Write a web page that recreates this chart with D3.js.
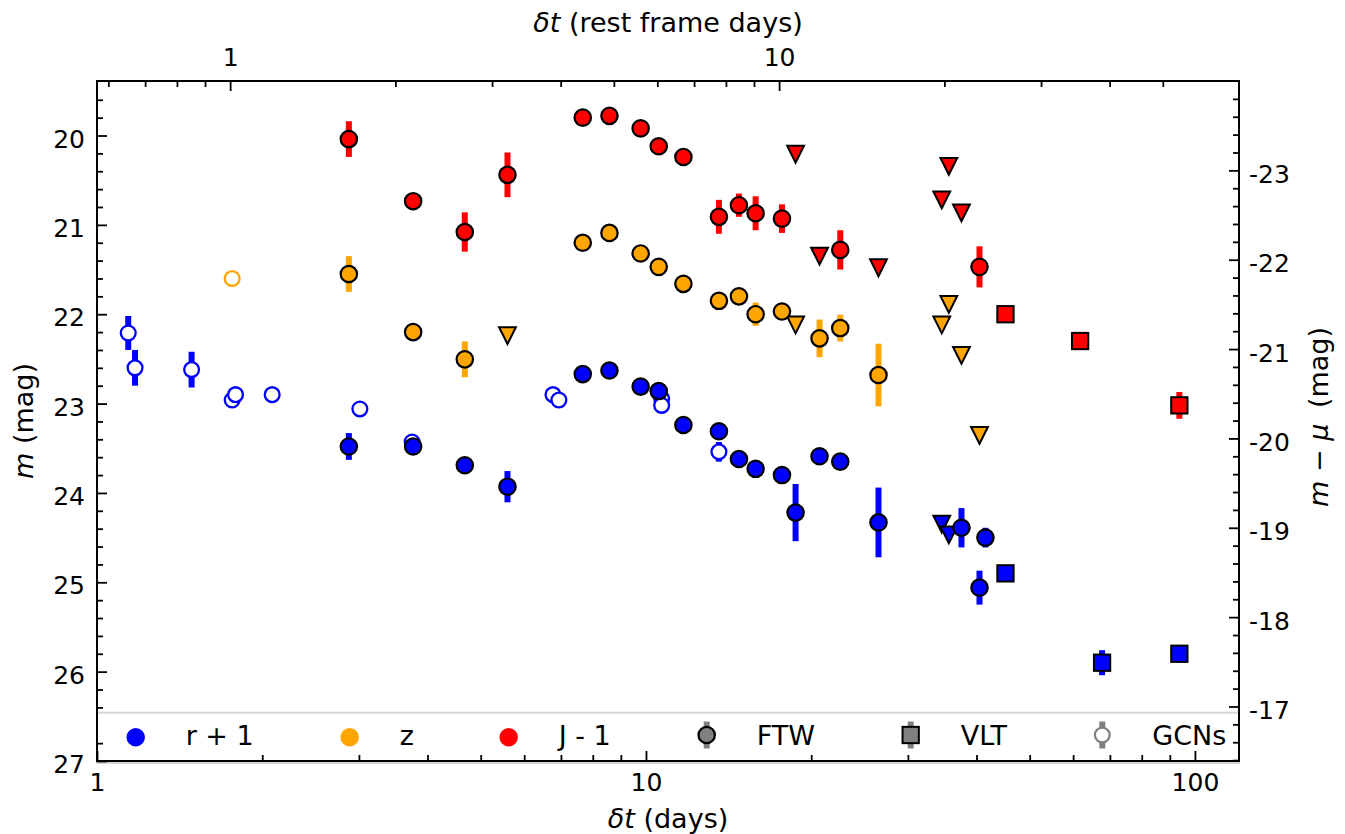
<!DOCTYPE html>
<html><head><meta charset="utf-8">
<script src="https://cdn.jsdelivr.net/npm/d3@7"></script>
<style>
body{margin:0;background:#fff}
svg{display:block}
text{font-family:'DejaVu Sans',sans-serif;fill:#000}
</style>
</head><body><svg id="c" width="1345" height="834"></svg>
<script>
// ---------------- data (observed-frame days, magnitudes) ----------------
const redFtwT   = [2.876, 3.766, 4.677, 5.594, 7.671, 8.580, 9.779, 10.55, 11.70, 13.58, 14.77, 15.84, 17.69, 22.59, 40.51];
const redFtwM   = [20.04, 20.735, 21.08, 20.44, 19.80, 19.78, 19.92, 20.12, 20.24, 20.91, 20.78, 20.87, 20.93, 21.28, 21.47];
const redFtwE   = [0.20, 0.03, 0.22, 0.25, 0.02, 0.02, 0.02, 0.02, 0.02, 0.19, 0.13, 0.19, 0.16, 0.22, 0.23];
const redLimT   = [18.73, 20.71, 26.52, 34.58, 35.62, 37.56];
const redLimM   = [20.21, 21.35, 21.48, 20.72, 20.345, 20.865];
const redVltT   = [45.17, 61.78, 93.67];
const redVltM   = [22.00, 22.30, 23.02];
const redVltE   = [0.03, 0.03, 0.15];

const zFtwT     = [2.876, 3.766, 4.677, 7.671, 8.580, 9.779, 10.55, 11.70, 13.58, 14.77, 15.84, 17.69, 20.71, 22.59, 26.52];
const zFtwM     = [21.55, 22.20, 22.505, 21.20, 21.09, 21.32, 21.47, 21.66, 21.85, 21.80, 22.00, 21.97, 22.27, 22.155, 22.68];
const zFtwE     = [0.20, 0.05, 0.20, 0.02, 0.02, 0.02, 0.02, 0.02, 0.04, 0.03, 0.13, 0.03, 0.21, 0.15, 0.35];
const zLimT     = [5.594, 18.73, 34.58, 35.62, 37.56, 40.51];
const zLimM     = [22.24, 22.12, 22.12, 21.89, 22.46, 23.355];
const zGcnT     = [1.763];
const zGcnM     = [21.60];
const zGcnE     = [0];

const rFtwT     = [2.876, 3.766, 4.677, 5.594, 7.671, 8.580, 9.779, 10.55, 11.70, 13.58, 14.77, 15.84, 17.69, 18.73, 20.71, 22.59, 26.52, 37.56, 41.53, 40.51];
const rFtwM     = [23.48, 23.48, 23.69, 23.93, 22.67, 22.63, 22.81, 22.86, 23.24, 23.31, 23.62, 23.73, 23.80, 24.22, 23.59, 23.65, 24.33, 24.39, 24.50, 25.06];
const rFtwE     = [0.15, 0.03, 0.03, 0.175, 0.02, 0.02, 0.02, 0.02, 0.02, 0.03, 0.03, 0.03, 0.03, 0.32, 0.03, 0.06, 0.39, 0.22, 0.11, 0.19];
const rLimT     = [34.58, 35.62];
const rLimM     = [24.35, 24.47];
const rVltT     = [45.17, 67.74, 93.67];
const rVltM     = [24.90, 25.90, 25.80];
const rVltE     = [0.03, 0.14, 0.03];
const rGcnT     = [1.140, 1.173, 1.487, 1.763, 1.788, 2.085, 3.012, 3.750, 6.77, 6.94, 10.68, 10.68, 13.58];
const rGcnM     = [22.21, 22.60, 22.62, 22.96, 22.90, 22.90, 23.06, 23.43, 22.90, 22.96, 22.945, 23.02, 23.54];
const rGcnE     = [0.19, 0.20, 0.20, 0, 0, 0, 0, 0.05, 0, 0, 0, 0, 0.11];

const bottomMajor = [1, 10, 100];
const bottomMinor = [2,3,4,5,6,7,8,9,20,30,40,50,60,70,80,90];
const topMajor    = [1, 10];
const topMinor    = [0.6,0.7,0.8,0.9,2,3,4,5,6,7,8,9,20,30,40,50];
const leftMajor   = [20, 21, 22, 23, 24, 25, 26, 27];
const rightMajor  = [-23, -22, -21, -20, -19, -18, -17];
const legendLabels = ["r + 1", "z", "J - 1", "FTW", "VLT", "GCNs"];

const onePlusZ = 1.748;   // rest-frame conversion
const distMod  = 43.39;   // distance modulus for right axis
const xDomain  = [1, 120.3];
const yDomain  = [19.39, 27];

const BLUE = "#0000ff", ORANGE = "#ffa500", RED = "#ff0000", GRAY = "#808080";

// ---------------- layout ----------------
const svg = d3.select("#c");
const L = 97, R = 1239, T = 81, B = 761;
const FS = 25;      // tick labels
const FL = 27;      // axis titles and legend

const x  = d3.scaleLog().domain(xDomain).range([L, R]);
const xt = d3.scaleLog().domain(xDomain.map(v => v / onePlusZ)).range([L, R]);
const y  = d3.scaleLinear().domain(yDomain).range([T, B]);
const yr = d3.scaleLinear().domain(yDomain.map(v => v - distMod)).range([T, B]);

const plot = svg.append("g");

function errbars(ts, ms, es, color) {
  plot.append("g").selectAll("line").data(ts.map((t,i)=>({t, m: ms[i], e: es[i]})).filter(d => d.e > 0))
    .join("line")
    .attr("x1", d => x(d.t)).attr("x2", d => x(d.t))
    .attr("y1", d => y(d.m - d.e)).attr("y2", d => y(d.m + d.e))
    .attr("stroke", color).attr("stroke-width", 6);
}
function circles(ts, ms, fill, stroke, r, sw) {
  plot.append("g").selectAll("circle").data(ts.map((t,i)=>({t, m: ms[i]})))
    .join("circle")
    .attr("cx", d => x(d.t)).attr("cy", d => y(d.m)).attr("r", r)
    .attr("fill", fill).attr("stroke", stroke).attr("stroke-width", sw);
}
const H = 8.4;
const triPath = `M${-H},${-H}L${H},${-H}L0,${H}Z`;
function triangles(ts, ms, fill) {
  plot.append("g").selectAll("path").data(ts.map((t,i)=>({t, m: ms[i]})))
    .join("path")
    .attr("transform", d => `translate(${x(d.t)},${y(d.m)})`)
    .attr("d", triPath)
    .attr("fill", fill).attr("stroke", "#000").attr("stroke-width", 2).attr("stroke-linejoin", "miter");
}
const S = 16.3;
function squares(ts, ms, fill) {
  plot.append("g").selectAll("rect").data(ts.map((t,i)=>({t, m: ms[i]})))
    .join("rect")
    .attr("x", d => x(d.t) - S/2).attr("y", d => y(d.m) - S/2)
    .attr("width", S).attr("height", S)
    .attr("fill", fill).attr("stroke", "#000").attr("stroke-width", 2);
}

// GCNs (open circles)
errbars(rGcnT, rGcnM, rGcnE, BLUE);
circles(rGcnT, rGcnM, "#fff", BLUE, 7.4, 2.3);
errbars(zGcnT, zGcnM, zGcnE, ORANGE);
circles(zGcnT, zGcnM, "#fff", ORANGE, 7.4, 2.3);

// upper limits
triangles(redLimT, redLimM, RED);
triangles(zLimT, zLimM, ORANGE);
triangles(rLimT, rLimM, BLUE);

// FTW
errbars(rFtwT, rFtwM, rFtwE, BLUE);
circles(rFtwT, rFtwM, BLUE, "#000", 8.2, 2.2);
errbars(zFtwT, zFtwM, zFtwE, ORANGE);
circles(zFtwT, zFtwM, ORANGE, "#000", 8.2, 2.2);
errbars(redFtwT, redFtwM, redFtwE, RED);
circles(redFtwT, redFtwM, RED, "#000", 8.2, 2.2);

// VLT
errbars(redVltT, redVltM, redVltE, RED);
squares(redVltT, redVltM, RED);
errbars(rVltT, rVltM, rVltE, BLUE);
squares(rVltT, rVltM, BLUE);

// ---------------- legend ----------------
const lg = svg.append("g");
lg.append("rect").attr("x", L).attr("y", 712.7).attr("width", R - L).attr("height", B - 712.7 + 2)
  .attr("fill", "#fff").attr("fill-opacity", 0.8).attr("stroke", "#d6d6d6").attr("stroke-width", 2);
const lgX = [135.7, 349.7, 508.7, 706.7, 910.7, 1102.3];
const lgY = 736.5;
[BLUE, ORANGE, RED].forEach((c, i) => {
  lg.append("circle").attr("cx", lgX[i]).attr("cy", lgY + 0.8).attr("r", 9.2).attr("fill", c);
});
// FTW
lg.append("line").attr("x1", lgX[3]).attr("x2", lgX[3]).attr("y1", lgY - 15).attr("y2", lgY + 12).attr("stroke", GRAY).attr("stroke-width", 6);
lg.append("circle").attr("cx", lgX[3]).attr("cy", lgY - 1.5).attr("r", 8.2).attr("fill", GRAY).attr("stroke", "#000").attr("stroke-width", 2.2);
// VLT
lg.append("line").attr("x1", lgX[4]).attr("x2", lgX[4]).attr("y1", lgY - 15).attr("y2", lgY + 12).attr("stroke", GRAY).attr("stroke-width", 6);
lg.append("rect").attr("x", lgX[4] - S/2).attr("y", lgY - 1.5 - S/2).attr("width", S).attr("height", S).attr("fill", GRAY).attr("stroke", "#000").attr("stroke-width", 2);
// GCNs
lg.append("line").attr("x1", lgX[5]).attr("x2", lgX[5]).attr("y1", lgY - 15).attr("y2", lgY + 12).attr("stroke", GRAY).attr("stroke-width", 6);
lg.append("circle").attr("cx", lgX[5]).attr("cy", lgY - 1.5).attr("r", 7.4).attr("fill", "#fff").attr("stroke", GRAY).attr("stroke-width", 2.3);
legendLabels.forEach((s, i) => {
  lg.append("text").attr("x", lgX[i] + 50).attr("y", 745).attr("font-size", FL).text(s);
});

// ---------------- axes ----------------
function styleAxis(g) {
  g.select(".domain").remove();
  g.selectAll(".tick line").attr("stroke", "#000").attr("stroke-width", 1.8);
  g.selectAll("text").attr("font-size", FS).attr("font-family", "'DejaVu Sans',sans-serif").attr("fill", "#000");
}

// bottom
svg.append("g").attr("transform", `translate(0,${B})`)
  .call(d3.axisBottom(x).tickValues(bottomMajor).tickSize(-10).tickFormat(d3.format("d")))
  .call(styleAxis).call(g => g.selectAll("text").attr("y", 30).attr("dy", 0));
svg.append("g").attr("transform", `translate(0,${B})`)
  .call(d3.axisBottom(x).tickValues(bottomMinor).tickSize(-6).tickFormat(""))
  .call(styleAxis);
// top
svg.append("g").attr("transform", `translate(0,${T})`)
  .call(d3.axisTop(xt).tickValues(topMajor).tickSize(-10).tickFormat(d3.format("d")))
  .call(styleAxis).call(g => g.selectAll("text").attr("y", -15.3).attr("dy", 0));
svg.append("g").attr("transform", `translate(0,${T})`)
  .call(d3.axisTop(xt).tickValues(topMinor).tickSize(-6).tickFormat(""))
  .call(styleAxis);
// left
const leftMinor = d3.range(19.6, 27.0, 0.2).map(v => Math.round(v * 10) / 10).filter(v => Math.abs(v - Math.round(v)) > 0.05 && v !== 26.6);
svg.append("g").attr("transform", `translate(${L},0)`)
  .call(d3.axisLeft(y).tickValues(leftMajor).tickSize(-10).tickFormat(d3.format("d")))
  .call(styleAxis).call(g => g.selectAll("text").attr("x", -12).attr("dy", 0).attr("y", 11.6));
svg.append("g").attr("transform", `translate(${L},0)`)
  .call(d3.axisLeft(y).tickValues(leftMinor).tickSize(-6).tickFormat(""))
  .call(styleAxis);
// right
const rightMinor = d3.range(-23.8, -16.3, 0.2).map(v => Math.round(v * 10) / 10).filter(v => Math.abs(v - Math.round(v)) > 0.05);
svg.append("g").attr("transform", `translate(${R},0)`)
  .call(d3.axisRight(yr).tickValues(rightMajor).tickSize(-10).tickFormat(d => String(d)))
  .call(styleAxis).call(g => g.selectAll("text").attr("x", 10).attr("dy", 0).attr("y", 12));
svg.append("g").attr("transform", `translate(${R},0)`)
  .call(d3.axisRight(yr).tickValues(rightMinor).tickSize(-6).tickFormat(""))
  .call(styleAxis);

// frame
svg.append("rect").attr("x", L).attr("y", T).attr("width", R - L).attr("height", B - T)
  .attr("fill", "none").attr("stroke", "#000").attr("stroke-width", 2);

// ---------------- axis titles ----------------
const cx = (L + R) / 2, cy = (T + B) / 2;
function mathLabel(g, parts) {
  parts.forEach(([s, it, dx]) => {
    const ts = g.append("tspan").attr("font-style", it ? "italic" : "normal").text(s);
    if (dx) ts.attr("dx", dx);
  });
}
mathLabel(svg.append("text").attr("x", cx).attr("y", 32).attr("text-anchor", "middle").attr("font-size", FL),
  [["δt", true], [" (rest frame days)", false]]);
mathLabel(svg.append("text").attr("x", cx).attr("y", 828).attr("text-anchor", "middle").attr("font-size", FL),
  [["δt", true], [" (days)", false]]);
mathLabel(svg.append("text").attr("transform", `translate(33,${cy}) rotate(-90)`).attr("text-anchor", "middle").attr("font-size", FL),
  [["m", true], [" (mag)", false]]);
mathLabel(svg.append("text").attr("transform", `translate(1328,${cy - 4}) rotate(-90)`).attr("text-anchor", "middle").attr("font-size", FL),
  [["m", true], [" − ", false], ["μ", true], [" (mag)", false, 7]]);
</script>
</body></html>
